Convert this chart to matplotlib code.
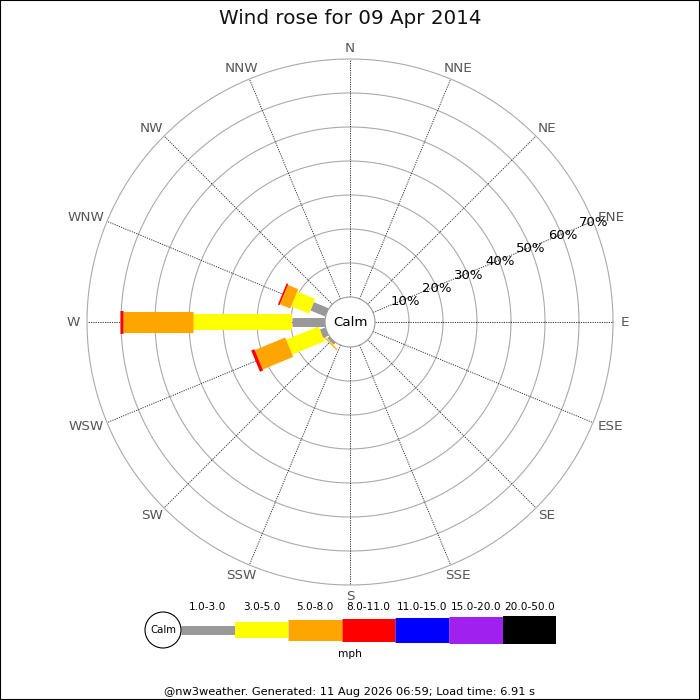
import numpy as np
import matplotlib
matplotlib.use('Agg')
import matplotlib.pyplot as plt
from matplotlib.patches import Circle

# compass points, clockwise from north
directions = ['N', 'NNE', 'NE', 'ENE', 'E', 'ESE', 'SE', 'SSE',
              'S', 'SSW', 'SW', 'WSW', 'W', 'WNW', 'NW', 'NNW']
speed_bins = ['1.0-3.0', '3.0-5.0', '5.0-8.0', '8.0-11.0',
              '11.0-15.0', '15.0-20.0', '20.0-50.0']
bin_colors = ['#999999', '#ffff00', '#ffa500', '#ff0000',
              '#0000ff', '#a020f0', '#000000']
ring_pcts = [10, 20, 30, 40, 50, 60, 70]

# % of time per speed bin, only for directions that had wind
freq_SW = [0.8, 0.2, 0.3, 0, 0, 0, 0]
freq_WSW = [1.7, 10.3, 9.7, 1.0, 0, 0, 0]
freq_W = [9.7, 29.1, 20.6, 0.9, 0, 0, 0]
freq_WNW = [4.7, 5.7, 3.3, 0.5, 0, 0, 0]

freq = np.zeros((len(directions), len(speed_bins)))
freq[directions.index('SW')] = freq_SW
freq[directions.index('WSW')] = freq_WSW
freq[directions.index('W')] = freq_W
freq[directions.index('WNW')] = freq_WNW

##
## layout: one axes over the whole figure, 1 data unit = 1 percent
##
S = 3.4            # pixels per percent
CX, CY = 350, 322  # rose centre in pixels
R0 = 25 / S        # calm circle radius
bar_px = [9, 16, 21, 23, 25, 27, 28]   # bar thickness per speed bin (px)


def px(x, y):
    return (x - CX) / S, (CY - y) / S


def lw(p):
    return p * 72.0 / 100


fig = plt.figure(figsize=(7, 7), dpi=100)
ax = fig.add_axes([0, 0, 1, 1])
ax.set_xlim(-CX / S, (700 - CX) / S)
ax.set_ylim(-(700 - CY) / S, CY / S)
ax.set_aspect('equal')
ax.set_xticks([])
ax.set_yticks([])
for sp in ax.spines.values():
    sp.set_color('black')
    sp.set_linewidth(1.5)

# rings
t = np.linspace(0, 2 * np.pi, 400)
for p in ring_pcts:
    r = R0 + p
    ax.plot(r * np.cos(t), r * np.sin(t), color='#aaaaaa', lw=0.8, zorder=1)

# spokes + labels
rmax = R0 + ring_pcts[-1]
fig.canvas.draw()
renderer = fig.canvas.get_renderer()
for i, d in enumerate(directions):
    b = np.radians(i * 22.5)
    ax.plot([R0 * np.sin(b), rmax * np.sin(b)], [R0 * np.cos(b), rmax * np.cos(b)],
            color='#333333', lw=0.7, dashes=(1.2, 1.2), zorder=1)
    rl = 272 / S
    txt = ax.text(rl * np.sin(b), rl * np.cos(b), d, color='#555555', fontsize=9.7,
                  ha='center', va='center')
    # push the label outward so its inner edge sits near the ring
    w = txt.get_window_extent(renderer).width
    txt.set_position((rl * np.sin(b) + np.sin(b) * 0.75 * w / 2 / S,
                      rl * np.cos(b) + np.cos(b) * 2 / S))

# bars
for i in range(len(directions)):
    b = np.radians(i * 22.5)
    start = R0
    for j in range(len(speed_bins)):
        v = freq[i, j]
        if v <= 0:
            continue
        end = start + v
        ax.plot([start * np.sin(b), end * np.sin(b)], [start * np.cos(b), end * np.cos(b)],
                color=bin_colors[j], lw=lw(bar_px[j]), solid_capstyle='butt', zorder=3)
        start = end

# percentage labels along ENE
b = np.radians(67.5)
for p in ring_pcts:
    r = R0 + p + 0.3
    ax.text(r * np.sin(b), r * np.cos(b) - 2 / S, '%d%%' % p, fontsize=9.5,
            ha='center', va='center', zorder=5)

# calm circle
ax.add_patch(Circle((0, 0), R0, facecolor='white', edgecolor='#999999', lw=0.8, zorder=4))
ax.text(0, 0, 'Calm', fontsize=9.6, ha='center', va='center', zorder=5)

##
## legend
##
ly = 630
x0, bw = 181, 53.6
for j in range(len(speed_bins)):
    xa, ya = px(x0 + j * bw, ly)
    xb, yb = px(x0 + (j + 1) * bw, ly)
    ax.plot([xa, xb], [ya, yb], color=bin_colors[j], lw=lw(bar_px[j]),
            solid_capstyle='butt', zorder=3)
    tx, ty = px(x0 + (j + 0.5) * bw, 607)
    ax.text(tx, ty, speed_bins[j], fontsize=7.6, ha='center', va='center')
cx, cy = px(163, ly)
ax.add_patch(Circle((cx, cy), 18 / S, facecolor='white', edgecolor='black', lw=0.8, zorder=4))
ax.text(cx, cy, 'Calm', fontsize=7.3, ha='center', va='center', zorder=5)
tx, ty = px(350, 654)
ax.text(tx, ty, 'mph', fontsize=7.6, ha='center', va='center')

fig.text(0.5, 1 - 18 / 700., 'Wind rose for 09 Apr 2014', fontsize=14.3,
         ha='center', va='center', color='#111111')
fig.text(0.5, 1 - 692 / 700., '@nw3weather. Generated: 11 Aug 2026 06:59; Load time: 6.91 s',
         fontsize=8.2, ha='center', va='center')

fig.savefig('out.png', dpi=100)
